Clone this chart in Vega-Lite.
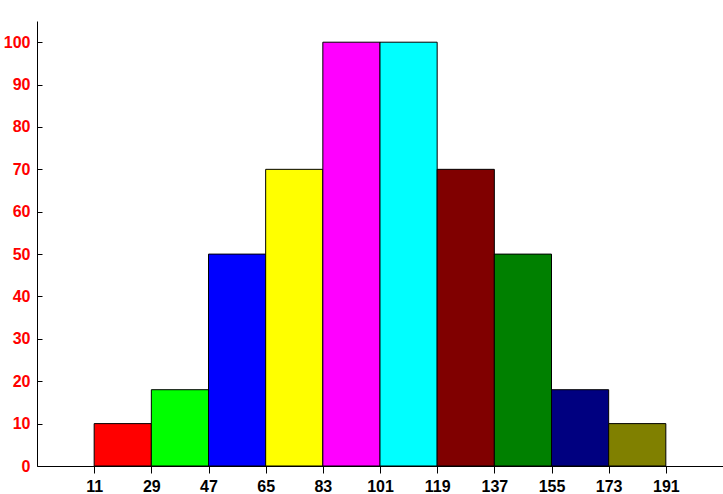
{
  "$schema": "https://vega.github.io/schema/vega-lite/v6.json",
  "width": 686,
  "height": 445,
  "autosize": {"type": "none"},
  "padding": {"left": 37, "top": 21, "right": 0, "bottom": 28},
  "background": "white",
  "config": {"view": {"stroke": null}},
  "data": {
    "values": [
      {"start": 11, "end": 29, "count": 10},
      {"start": 29, "end": 47, "count": 18},
      {"start": 47, "end": 65, "count": 50},
      {"start": 65, "end": 83, "count": 70},
      {"start": 83, "end": 101, "count": 100},
      {"start": 101, "end": 119, "count": 100},
      {"start": 119, "end": 137, "count": 70},
      {"start": 137, "end": 155, "count": 50},
      {"start": 155, "end": 173, "count": 18},
      {"start": 173, "end": 191, "count": 10}
    ]
  },
  "mark": {"type": "rect", "stroke": "black", "strokeWidth": 1},
  "encoding": {
    "x": {
      "field": "start", "type": "quantitative",
      "scale": {"domain": [-7, 209], "nice": false, "zero": false},
      "axis": {
        "title": null, "grid": false, "values": [11, 29, 47, 65, 83, 101, 119, 137, 155, 173, 191],
        "domainColor": "black", "tickColor": "black", "tickSize": 7, "labelPadding": 5,
        "labelColor": "black", "labelFont": "Liberation Sans", "labelFontSize": 16, "labelFontWeight": "bold",
        "labelFlush": false, "labelOverlap": false
      }
    },
    "x2": {"field": "end"},
    "y": {
      "field": "count", "type": "quantitative",
      "scale": {"domain": [0, 105], "nice": false},
      "axis": {
        "title": null, "grid": false, "values": [0, 10, 20, 30, 40, 50, 60, 70, 80, 90, 100],
        "domainColor": "black", "tickColor": "black", "tickSize": -5, "labelPadding": 12,
        "labelColor": "#FF0000", "labelFont": "Liberation Sans", "labelFontSize": 16, "labelFontWeight": "bold",
        "labelFlush": false, "labelOverlap": false
      }
    },
    "y2": {"datum": 0},
    "color": {
      "field": "start", "type": "nominal",
      "scale": {
        "domain": [11, 29, 47, 65, 83, 101, 119, 137, 155, 173],
        "range": ["#FF0000", "#00FF00", "#0000FF", "#FFFF00", "#FF00FF", "#00FFFF", "#800000", "#008000", "#000080", "#808000"]
      },
      "legend": null
    }
  }
}
